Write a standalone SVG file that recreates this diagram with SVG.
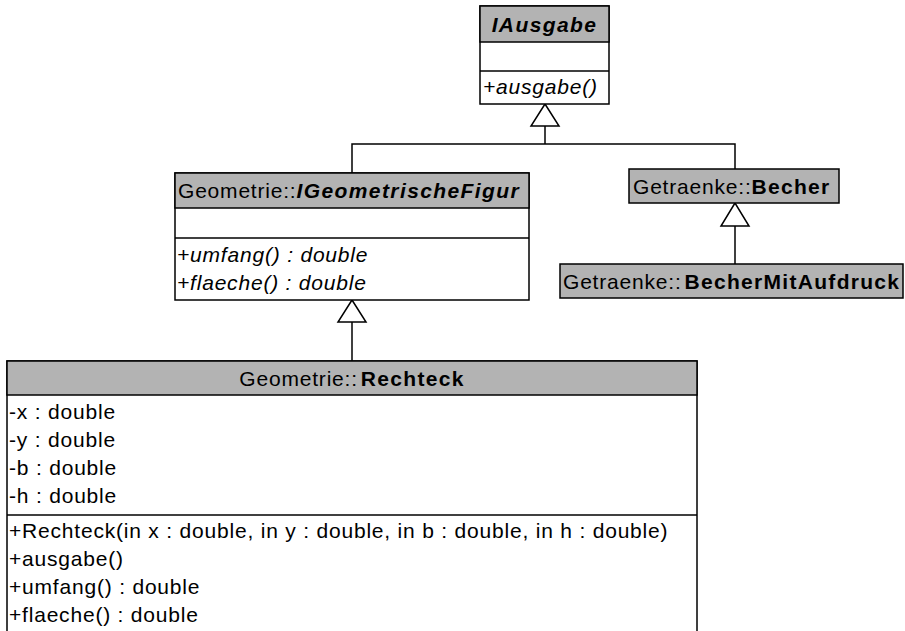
<svg xmlns="http://www.w3.org/2000/svg" width="905" height="631" viewBox="0 0 905 631">
<style>
text{font-family:"Liberation Sans",Arial,sans-serif;font-size:21px;letter-spacing:0.8px;fill:#000}
.b{font-weight:bold;letter-spacing:1.3px}
.i{font-style:italic}
.bi{font-weight:bold;font-style:italic;letter-spacing:1.4px}
.box{fill:#fff;stroke:#000;stroke-width:1.5}
.hd{fill:#b3b3b3;stroke:#000;stroke-width:1.5}
.sep{stroke:#000;stroke-width:1.5}
.c{fill:none;stroke:#000;stroke-width:1.5}
.tri{fill:#fff;stroke:#000;stroke-width:1.5}
</style>
<g id="connectors">
<polyline class="c" points="545,126 545,144"/>
<polyline class="c" points="352,173 352,144 735,144 735,169"/>
<polygon class="tri" points="545,104 531,126 559,126"/>
<polyline class="c" points="735,226 735,264"/>
<polygon class="tri" points="735,203 721,226 749,226"/>
<polyline class="c" points="352,322 352,361"/>
<polygon class="tri" points="352,300 338,322 366,322"/>
</g>
<g id="IAusgabe">
<rect class="box" x="480" y="6" width="129" height="98"/>
<rect class="hd" x="480" y="6" width="129" height="36"/>
<line class="sep" x1="480" y1="71" x2="609" y2="71"/>
<text x="544.5" y="32" text-anchor="middle" class="bi">IAusgabe</text>
<text x="483" y="94" class="i">+ausgabe()</text>
</g>
<g id="IGeometrischeFigur">
<rect class="box" x="175" y="173" width="354" height="127"/>
<rect class="hd" x="175" y="173" width="354" height="35"/>
<line class="sep" x1="175" y1="238" x2="529" y2="238"/>
<text x="178" y="198">Geometrie::<tspan class="bi">IGeometrischeFigur</tspan></text>
<text x="177" y="262" class="i">+umfang() : double</text>
<text x="177" y="290" class="i">+flaeche() : double</text>
</g>
<g id="Becher">
<rect class="hd" x="629" y="169" width="210" height="34"/>
<text x="633" y="194">Getraenke::<tspan class="b">Becher</tspan></text>
</g>
<g id="BecherMitAufdruck">
<rect class="hd" x="560" y="264" width="343" height="34"/>
<text x="563" y="289">Getraenke::<tspan class="b" dx="3">BecherMitAufdruck</tspan></text>
</g>
<g id="Rechteck">
<rect class="box" x="7" y="361" width="690" height="290"/>
<rect class="hd" x="7" y="361" width="690" height="34"/>
<line class="sep" x1="7" y1="515" x2="697" y2="515"/>
<text x="352" y="386" text-anchor="middle">Geometrie::<tspan class="b" dx="3">Rechteck</tspan></text>
<text x="9" y="419">-x : double</text>
<text x="9" y="447">-y : double</text>
<text x="9" y="475">-b : double</text>
<text x="9" y="503">-h : double</text>
<text x="9" y="538">+Rechteck(in x : double, in y : double, in b : double, in h : double)</text>
<text x="9" y="566">+ausgabe()</text>
<text x="9" y="594">+umfang() : double</text>
<text x="9" y="622">+flaeche() : double</text>
</g>
</svg>
